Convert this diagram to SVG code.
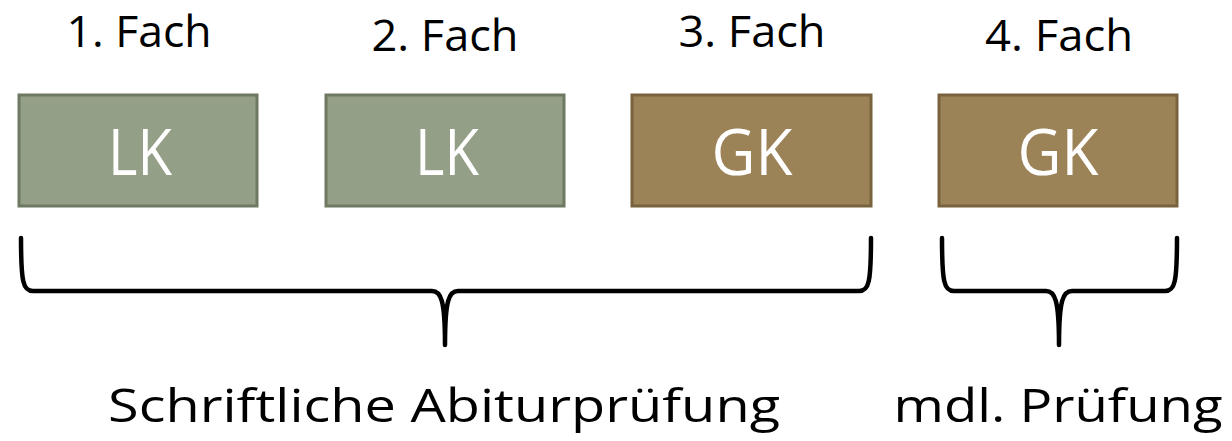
<svg xmlns="http://www.w3.org/2000/svg" width="1232" height="441" viewBox="0 0 1232 441">
<style>
.lbl{font-family:"Open Sans","Noto Sans",sans-serif;font-size:43px;fill:#000;text-anchor:middle}
.big{font-family:"Open Sans","Noto Sans",sans-serif;font-size:45px;fill:#000;text-anchor:middle}
.box-text{font-family:"Open Sans","Noto Sans",sans-serif;font-size:64px;fill:#fff;text-anchor:middle}
.lk{fill:#949F87;stroke:#6E7962;stroke-width:3}
.gk{fill:#9C8257;stroke:#79633F;stroke-width:3}
.brace{fill:none;stroke:#000;stroke-width:4.5;stroke-linecap:round;stroke-linejoin:round}
</style>
<rect width="1232" height="441" fill="#fff"/>
<g id="node1">
<text class="lbl" x="139" y="47" textLength="145" lengthAdjust="spacingAndGlyphs">1. Fach</text>
<rect class="lk" x="19" y="95" width="238" height="111"/>
<text class="box-text" x="140" y="175" textLength="64" lengthAdjust="spacingAndGlyphs">LK</text>
</g>
<g id="node2">
<text class="lbl" x="445" y="51" textLength="147" lengthAdjust="spacingAndGlyphs">2. Fach</text>
<rect class="lk" x="326" y="95" width="238" height="111"/>
<text class="box-text" x="447" y="175" textLength="64" lengthAdjust="spacingAndGlyphs">LK</text>
</g>
<g id="node3">
<text class="lbl" x="752" y="47" textLength="147" lengthAdjust="spacingAndGlyphs">3. Fach</text>
<rect class="gk" x="632" y="95" width="239" height="111"/>
<text class="box-text" x="752" y="175" textLength="81" lengthAdjust="spacingAndGlyphs">GK</text>
</g>
<g id="node4">
<text class="lbl" x="1059" y="51" textLength="148" lengthAdjust="spacingAndGlyphs">4. Fach</text>
<rect class="gk" x="939" y="95" width="238" height="111"/>
<text class="box-text" x="1058" y="175" textLength="81" lengthAdjust="spacingAndGlyphs">GK</text>
</g>
<g id="connectors">
<path class="brace" d="M21,238 C21,282 23,291 33,291 L432,291 C441,291 445,300 445,345 C445,300 449,291 458,291 L859,291 C869,291 871,282 871,238"/>
<path class="brace" d="M942,238 C942,282 944,291 954,291 L1046,291 C1055,291 1059,300 1059,345 C1059,300 1063,291 1072,291 L1165,291 C1175,291 1177,282 1177,238"/>
</g>
<g id="labels">
<text class="big" x="444" y="422" textLength="672" lengthAdjust="spacingAndGlyphs">Schriftliche Abiturprüfung</text>
<text class="big" x="1058" y="422" textLength="329" lengthAdjust="spacingAndGlyphs">mdl. Prüfung</text>
</g>
</svg>
